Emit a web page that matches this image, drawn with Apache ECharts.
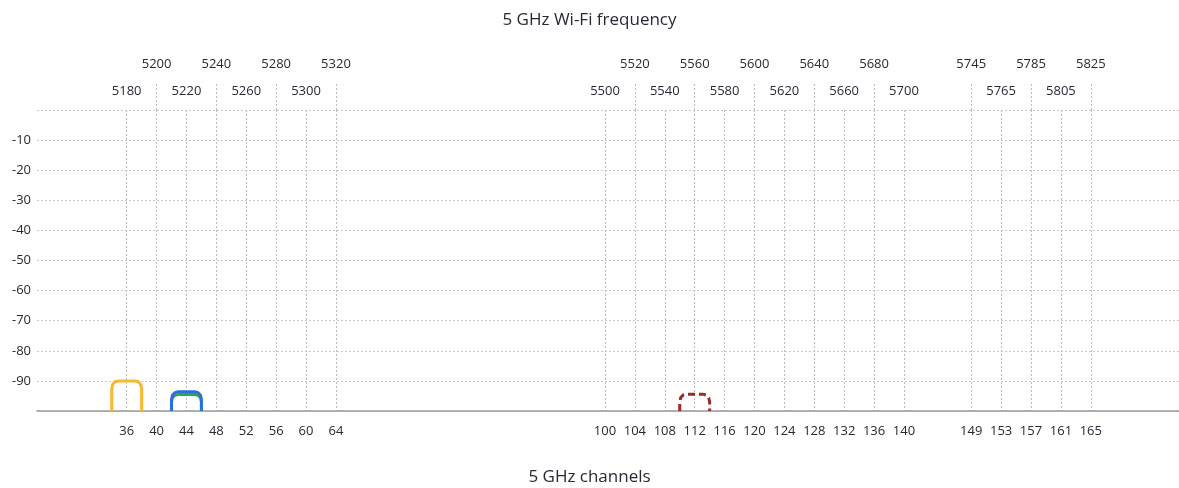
<!DOCTYPE html>
<html>
<head>
<meta charset="utf-8">
<script src="https://cdn.jsdelivr.net/npm/echarts@6/dist/echarts.min.js"></script>
<style>
  html, body { margin: 0; padding: 0; background: #fff; }
  #main { width: 1179px; height: 488px; }
</style>
</head>
<body>
<div id="main"></div>
<script>
// channel numbers shown on the bottom axis
var channels = [36, 40, 44, 48, 52, 56, 60, 64,
  100, 104, 108, 112, 116, 120, 124, 128, 132, 136, 140,
  149, 153, 157, 161, 165]

// frequency labels, upper row (channel -> MHz)
var upperChannels = [40, 48, 56, 64, 104, 112, 120, 128, 136, 149, 157, 165]
var upperFreqs = ['5200', '5240', '5280', '5320', '5520', '5560', '5600', '5640', '5680', '5745', '5785', '5825']
// frequency labels, lower row
var lowerChannels = [36, 44, 52, 60, 100, 108, 116, 124, 132, 140, 153, 161]
var lowerFreqs = ['5180', '5220', '5260', '5300', '5500', '5540', '5580', '5620', '5660', '5700', '5765', '5805']

// signal outlines [channel, dBm]
var yellowNet = [[34, -100], [34, -92.6], [34.12, -91.2], [34.45, -90.3], [34.9, -90],
  [37.1, -90], [37.55, -90.3], [37.88, -91.2], [38, -92.6], [38, -100]]
var greenNet = [[42, -100], [42, -97], [42.12, -95.6], [42.45, -94.8], [42.9, -94.5],
  [45.1, -94.5], [45.55, -94.8], [45.88, -95.6], [46, -97], [46, -100]]
var blueNet = [[42, -100], [42, -96.2], [42.12, -94.8], [42.45, -93.9], [42.9, -93.6],
  [45.1, -93.6], [45.55, -93.9], [45.88, -94.8], [46, -96.2], [46, -100]]
var redNet = [[110, -100], [110, -97], [110.12, -95.6], [110.45, -94.7], [110.9, -94.4],
  [113.1, -94.4], [113.55, -94.7], [113.88, -95.6], [114, -97], [114, -100]]

var fontName = '"Open Sans", "Noto Sans", sans-serif'
var textColor = '#262a33'
var xMin = 24
var xMax = 176.8

function lookup(list, labels) {
  return function (v) {
    var i = list.indexOf(Math.round(v))
    return i >= 0 ? labels[i] : ''
  }
}

function outline(data, color, dashed) {
  return {
    type: 'line',
    xAxisIndex: 0,
    data: data,
    symbol: 'none',
    silent: true,
    lineStyle: {
      color: color,
      width: 3,
      type: dashed ? [7, 4] : 'solid',
      join: 'round',
      cap: 'butt'
    }
  }
}

var labelStyle = {
  color: textColor,
  fontSize: 13,
  fontWeight: 500,
  fontFamily: fontName
}

var myChart = echarts.init(document.getElementById('main'))
var option = {
  animation: false,
  textStyle: { fontFamily: fontName },
  title: [
    {
      text: '5 GHz Wi-Fi frequency',
      left: 'center',
      top: 7,
      textStyle: { fontFamily: fontName, fontSize: 17, fontWeight: 500, color: textColor }
    },
    {
      text: '5 GHz channels',
      left: 'center',
      top: 464,
      textStyle: { fontFamily: fontName, fontSize: 17, fontWeight: 500, color: textColor }
    }
  ],
  grid: { left: 37, right: 0, top: 110, bottom: 77, containLabel: false },
  xAxis: [
    {
      type: 'value',
      position: 'bottom',
      min: xMin,
      max: xMax,
      axisLine: { show: true, onZero: false, lineStyle: { color: '#999', width: 1.5 } },
      axisTick: { show: false, customValues: channels },
      axisLabel: Object.assign({ customValues: channels, margin: 14 }, labelStyle),
      splitLine: { show: true, lineStyle: { color: '#bbb', type: [2, 2], width: 1 } }
    },
    {
      type: 'value',
      position: 'top',
      offset: 0,
      min: xMin,
      max: xMax,
      axisLine: { show: false },
      axisTick: {
        show: true,
        customValues: upperChannels,
        length: 28,
        lineStyle: { color: '#bbb', type: [2, 2], width: 1 }
      },
      axisLabel: Object.assign({
        customValues: upperChannels,
        formatter: lookup(upperChannels, upperFreqs),
        margin: 39
      }, labelStyle),
      splitLine: { show: false }
    },
    {
      type: 'value',
      position: 'top',
      offset: 0,
      min: xMin,
      max: xMax,
      axisLine: { show: false },
      axisTick: { show: false, customValues: lowerChannels },
      axisLabel: Object.assign({
        customValues: lowerChannels,
        formatter: lookup(lowerChannels, lowerFreqs),
        margin: 12
      }, labelStyle),
      splitLine: { show: false }
    }
  ],
  yAxis: {
    type: 'value',
    min: -100,
    max: 0,
    interval: 10,
    axisLine: { show: false },
    axisTick: { show: false },
    axisLabel: Object.assign({
      margin: 6,
      formatter: function (v) { return (v === 0 || v === -100) ? '' : String(v) }
    }, labelStyle),
    splitLine: { show: true, lineStyle: { color: '#c8c8c8', type: [2, 2], width: 1 } }
  },
  series: [
    outline(yellowNet, '#fbb731', false),
    outline(greenNet, '#2ea84f', false),
    outline(blueNet, '#2a6fe2', false),
    outline(redNet, '#9a2a2a', true)
  ]
}
myChart.setOption(option)
</script>
</body>
</html>
